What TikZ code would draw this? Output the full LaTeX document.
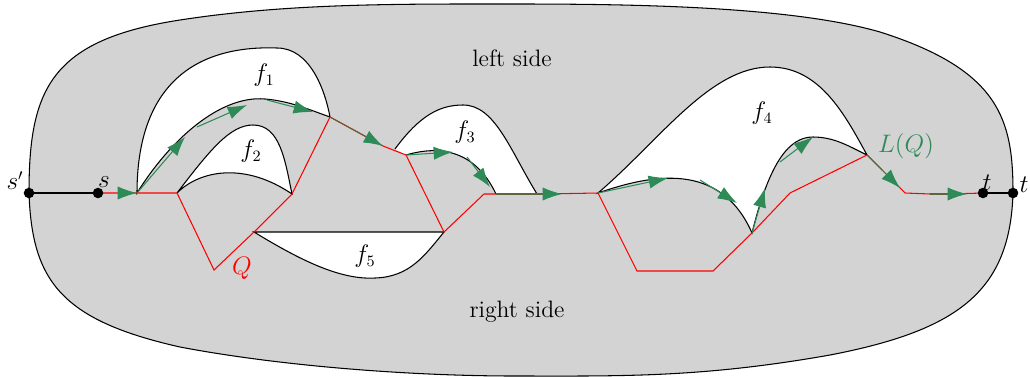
\documentclass[tikz,border=0pt]{standalone}
\usetikzlibrary{arrows.meta}
\definecolor{bggray}{RGB}{211,211,211}
\definecolor{lqgreen}{RGB}{46,139,87}
\definecolor{olivemix}{RGB}{95,100,60}
\begin{document}
\begin{tikzpicture}[x=0.02cm,y=-0.02cm,
  every node/.style={font=\fontsize{13.5}{16}\selectfont},
  edge/.style={draw=black,line width=0.6pt},
  face/.style={fill=white,draw=black,line width=0.6pt},
  qpath/.style={draw=red,line width=0.6pt},
  garrow/.style={draw=lqgreen,line width=0.6pt,-{Latex[length=11pt,width=7.5pt]}},
  golive/.style={draw=olivemix,line width=0.6pt,-{Latex[length=11pt,width=7.5pt,color=lqgreen,fill=lqgreen]}},
  dot/.style={circle,fill=black,inner sep=0pt,minimum size=6pt}]
\useasboundingbox (0,0) rectangle (1030,376);
% outer region
\path[fill=bggray,draw=black,line width=0.6pt]
  (29,193) .. controls (29,90) and (50,40) .. (180,20)
  .. controls (290,3) and (400,4) .. (515,4)
  .. controls (630,4) and (790,6) .. (880,32)
  .. controls (1000,70) and (1013,120) .. (1013,193)
  .. controls (1010,290) and (960,330) .. (830,355)
  .. controls (700,378) and (620,376) .. (515,376)
  .. controls (410,376) and (280,366) .. (180,347)
  .. controls (60,320) and (32,280) .. (29,193) -- cycle;
% vertices
\coordinate (sp) at (29,193);
\coordinate (s) at (98,193);
\coordinate (v1) at (137,193);
\coordinate (v3) at (177,193);
\coordinate (q1) at (214,270);
\coordinate (w5) at (254,232);
\coordinate (v4) at (292,194);
\coordinate (v2) at (330,117);
\coordinate (v5) at (406,155);
\coordinate (x5) at (444,232);
\coordinate (r1) at (484,194);
\coordinate (v6) at (598,193);
\coordinate (q2) at (637,271);
\coordinate (q3) at (713,271);
\coordinate (c4) at (752,233);
\coordinate (q4) at (790,193);
\coordinate (v7) at (867,155);
\coordinate (r2) at (905,193);
\coordinate (t) at (983,193);
\coordinate (tp) at (1013,193);
% faces
\path[face] (v1) .. controls (137,85) and (195,45) .. (277,48)
  .. controls (310,48) and (325,90) .. (v2)
  .. controls (310,110) and (290,101) .. (265,99)
  .. controls (220,95) and (170,140) .. (v1) -- cycle;
\path[face] (v3) .. controls (210,150) and (230,125) .. (253,125)
  .. controls (280,125) and (285,160) .. (v4)
  .. controls (245,162) and (200,170) .. (v3) -- cycle;
\path[fill=white] (395,149) .. controls (420,115) and (440,105) .. (463,105)
  .. controls (495,105) and (510,150) .. (537,194) -- (496,194)
  .. controls (475,150) and (440,145) .. (v5) -- cycle;
\draw[edge] (395,149) .. controls (420,115) and (440,105) .. (463,105)
  .. controls (495,105) and (510,150) .. (537,194);
\draw[edge] (v5) .. controls (440,145) and (475,150) .. (496,194);
\path[face] (w5) -- (x5) .. controls (425,255) and (410,277) .. (375,278)
  .. controls (340,280) and (300,260) .. (w5) -- cycle;
\path[face] (v6) .. controls (660,140) and (710,67) .. (770,67)
  .. controls (820,67) and (845,115) .. (v7)
  .. controls (850,147) and (835,137) .. (813,137)
  .. controls (790,137) and (770,160) .. (c4)
  .. controls (720,160) and (650,175) .. (v6) -- cycle;
% s'-s and t-t'
\draw[edge] (sp) -- (s);
\draw[edge] (t) -- (tp);
% red path Q
\draw[qpath] (s) -- (v1) -- (v3) -- (q1) -- (w5) -- (v4) -- (v2) -- (383,146);
\draw[qpath] (383,146) -- (v5) -- (x5) -- (r1) -- (496,194);
\draw[qpath] (543,194) -- (v6) -- (q2) -- (q3) -- (c4) -- (q4) -- (v7) -- (882,170);
\draw[qpath] (895,183) -- (r2) -- (930,194);
\draw[qpath] (950,194) -- (t);
% green arrows of L(Q)
\draw[garrow] (121,193) -- (v1);
\draw[garrow] (v1) -- (185,137);
\draw[garrow] (197,127) -- (247,105);
\draw[garrow] (267,100) -- (313,112);
\draw[golive] (v2) -- (383,146);
\draw[garrow] (v5) -- (453,152);
\draw[garrow] (467,157) -- (490,187);
\draw[golive] (496,194) -- (562,194);
\draw[garrow] (v6) -- (668,178);
\draw[garrow] (700,180) -- (737,203);
\draw[garrow] (c4) -- (765,188);
\draw[garrow] (780,162) -- (813,137);
\draw[golive] (v7) -- (900,188);
\draw[golive] (930,194) -- (967,194);
% dots
\node[dot] (dsp) at (sp) {};
\node[dot] (ds) at (s) {};
\node[dot] (dt) at (t) {};
\node[dot] (dtp) at (tp) {};
% labels
\node (lsp) at (15,181) {$s'$};
\node (ls) at (104,182) {$s$};
\node (lt) at (987,183) {$t$};
\node (ltp) at (1024,185) {$t$};
\node[text=lqgreen] (llq) at (906,146) {$L(Q)$};
\node[text=red] (lq) at (242,268) {$Q$};
\node (lf1) at (264,75) {$f_1$};
\node (lf2) at (251,151) {$f_2$};
\node (lf3) at (465,132) {$f_3$};
\node (lf4) at (762,113) {$f_4$};
\node (lf5) at (365,256) {$f_5$};
\node (lleft) at (512,58) {left side};
\node (lright) at (517,312) {right side};
\end{tikzpicture}
\end{document}
